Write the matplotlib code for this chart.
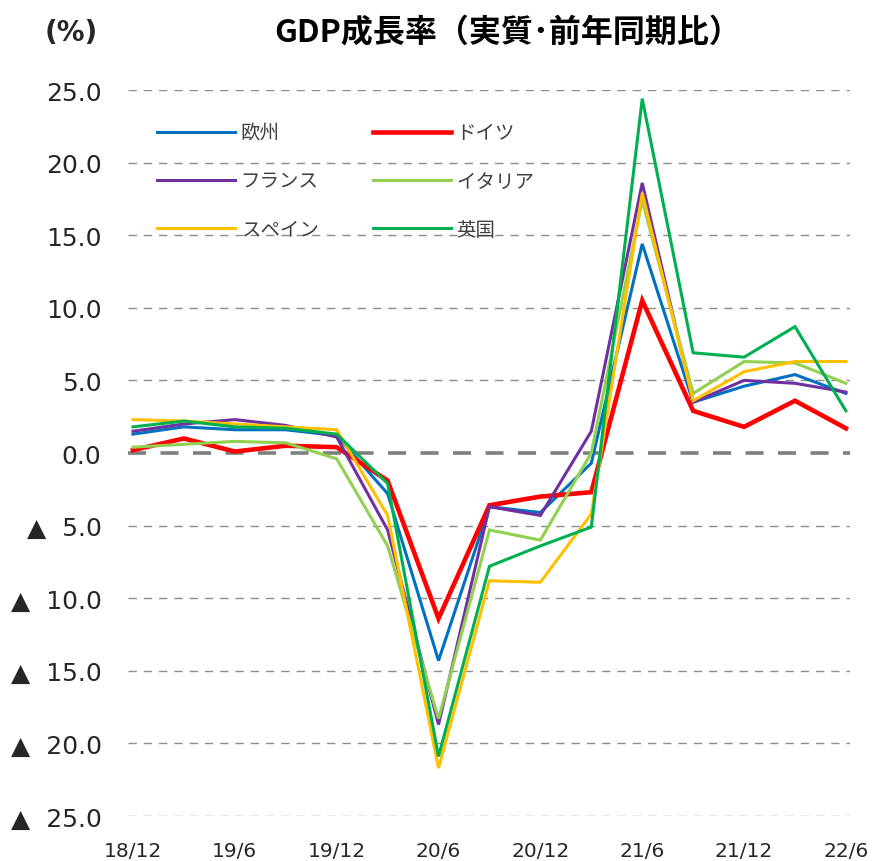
import matplotlib
matplotlib.use("Agg")
import matplotlib.pyplot as plt
import numpy as np

plt.rcParams['font.family'] = ['DejaVu Sans', 'Noto Sans CJK JP']

quarters = ['18/12', '19/3', '19/6', '19/9', '19/12', '20/3', '20/6', '20/9',
            '20/12', '21/3', '21/6', '21/9', '21/12', '22/3', '22/6']
series_names = ['欧州', 'ドイツ', 'フランス', 'イタリア', 'スペイン', '英国']
eu = [1.3, 1.8, 1.6, 1.6, 1.2, -2.8, -14.3, -3.7, -4.1, -0.7, 14.4, 3.5, 4.6, 5.4, 4.1]
de = [0.2, 1.0, 0.1, 0.5, 0.4, -1.9, -11.4, -3.6, -3.0, -2.7, 10.5, 2.9, 1.8, 3.6, 1.7]
fr = [1.5, 2.0, 2.3, 1.9, 1.1, -5.3, -18.7, -3.7, -4.3, 1.5, 18.6, 3.5, 5.0, 4.8, 4.2]
it = [0.4, 0.6, 0.8, 0.7, -0.4, -6.4, -18.3, -5.3, -6.0, 0.0, 17.4, 4.1, 6.3, 6.2, 4.8]
es = [2.3, 2.2, 2.0, 1.8, 1.6, -4.3, -21.7, -8.8, -8.9, -4.2, 17.9, 3.6, 5.6, 6.3, 6.3]
uk = [1.8, 2.2, 1.8, 1.7, 1.3, -2.1, -20.9, -7.8, -6.4, -5.1, 24.4, 6.9, 6.6, 8.7, 2.9]
y_ticks = [25, 20, 15, 10, 5, 0, -5, -10, -15, -20, -25]

colors = ['#0070C0', '#FF0000', '#7030A0', '#92D050', '#FFC000', '#00B050']
widths = [2.2, 3.3, 2.2, 2.2, 2.2, 2.2]
data = [eu, de, fr, it, es, uk]

W, H = 874, 862
fig = plt.figure(figsize=(W / 100, H / 100), dpi=100)
left, right, top, bottom = 128, 850, 91, 817
ax = fig.add_axes([left / W, 1 - bottom / H, (right - left) / W, (bottom - top) / H])

x = np.arange(len(quarters))
handles = []
for name, vals, c, lw in zip(series_names, data, colors, widths):
    h, = ax.plot(x, vals, color=c, lw=lw, label=name, solid_joinstyle='miter', zorder=3)
    handles.append(h)

ax.set_ylim(-25, 25)
ax.set_xlim(-0.098, 14.08)
for v in y_ticks:
    if v == 0:
        ax.axhline(v, color='#7F7F7F', lw=2.6, dashes=(5, 4), zorder=1)
    else:
        ax.axhline(v, color='#8C8C8C', lw=1.0, dashes=(6, 5), zorder=1)

ax.set_yticks(y_ticks)
ax.set_yticklabels([f'{v:.1f}' if v >= 0 else f'▲  {abs(v):.1f}' for v in y_ticks],
                   fontsize=18, color='#262626')
ax.set_xticks(x[::2])
ax.set_xticklabels(quarters[::2], fontsize=14.5, color='#262626')
ax.tick_params(axis='y', length=0, pad=19)
ax.tick_params(axis='x', length=0, pad=18)
for s in ax.spines.values():
    s.set_visible(False)

# Excel fills the 2-column legend row by row
order = [0, 2, 4, 1, 3, 5]
leg = ax.legend([handles[i] for i in order], [series_names[i] for i in order],
                ncol=2, frameon=False, loc='upper left',
                bbox_to_anchor=(157 / W, 1 - 123.5 / H), bbox_transform=fig.transFigure,
                fontsize=14, handlelength=4.0, handletextpad=0.3,
                columnspacing=2.8, labelspacing=1.39, borderpad=0, borderaxespad=0)
for t in leg.get_texts():
    t.set_color('#404040')
    t.set_fontfamily(['Noto Sans CJK JP', 'DejaVu Sans'])

fig.text(508 / W, 1 - 33 / H, 'GDP成長率（実質･前年同期比）', ha='center', va='center',
         fontsize=23, fontweight='bold', family=['Noto Sans CJK JP', 'DejaVu Sans'])
fig.text(71 / W, 1 - 33 / H, '(%)', ha='center', va='center', fontsize=20,
         fontweight='bold', color='#262626')

fig.savefig('out.png', dpi=100)
